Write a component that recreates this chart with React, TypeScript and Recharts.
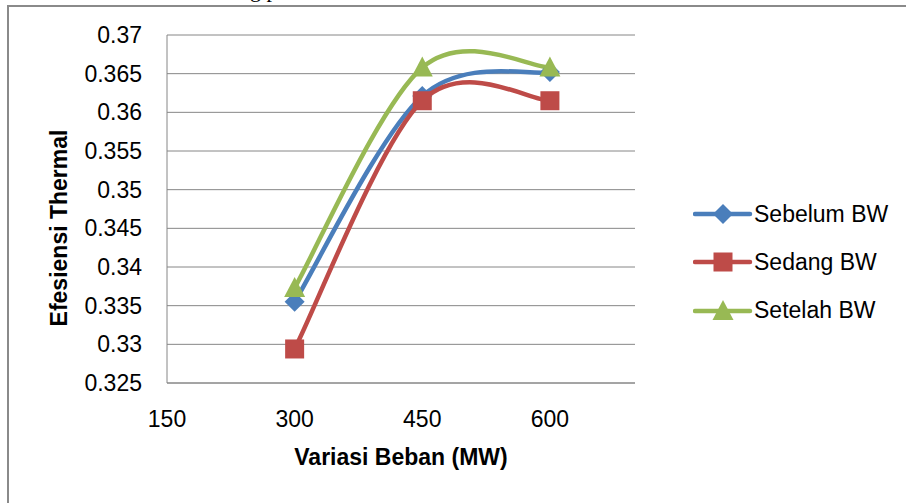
import React from "react";
import { LineChart, Line, XAxis, YAxis, CartesianGrid } from "recharts";

const loads = [300, 450, 600];
const sebelumBW = [0.3355, 0.3621, 0.3652];
const sedangBW = [0.3294, 0.3615, 0.3615];
const setelahBW = [0.3373, 0.3658, 0.3658];
const yTicks = [0.325, 0.33, 0.335, 0.34, 0.345, 0.35, 0.355, 0.36, 0.365, 0.37];
const xTicks = [150, 300, 450, 600];
const seriesNames = ["Sebelum BW", "Sedang BW", "Setelah BW"];

const BLUE = "#4A7EBB";
const RED = "#BE4B48";
const GREEN = "#98B954";
const FONT = "'Liberation Sans', Arial, sans-serif";

const data = loads.map((x, i) => ({
  x,
  sebelum: sebelumBW[i],
  sedang: sedangBW[i],
  setelah: setelahBW[i],
}));

// Excel-like smoothed line (Catmull-Rom to Bezier)
function excelCurve(context: any) {
  let pts: number[][] = [];
  return {
    areaStart() {},
    areaEnd() {},
    lineStart() {
      pts = [];
    },
    point(x: number, y: number) {
      pts.push([+x, +y]);
    },
    lineEnd() {
      const n = pts.length;
      if (!n) return;
      context.moveTo(pts[0][0], pts[0][1]);
      const t = 1 / 6;
      for (let i = 0; i < n - 1; i++) {
        const p0 = pts[Math.max(i - 1, 0)];
        const p1 = pts[i];
        const p2 = pts[i + 1];
        const p3 = pts[Math.min(i + 2, n - 1)];
        context.bezierCurveTo(
          p1[0] + (p2[0] - p0[0]) * t,
          p1[1] + (p2[1] - p0[1]) * t,
          p2[0] - (p3[0] - p1[0]) * t,
          p2[1] - (p3[1] - p1[1]) * t,
          p2[0],
          p2[1]
        );
      }
    },
  };
}

const diamond = (cx: number, cy: number, key?: any) => (
  <path key={key} d={`M${cx},${cy - 10}L${cx + 10},${cy}L${cx},${cy + 10}L${cx - 10},${cy}Z`} fill={BLUE} />
);
const square = (cx: number, cy: number, key?: any) => (
  <rect key={key} x={cx - 9.5} y={cy - 9.5} width={19} height={19} fill={RED} />
);
const triangle = (cx: number, cy: number, key?: any) => (
  <path key={key} d={`M${cx},${cy - 11}L${cx + 10.5},${cy + 9}L${cx - 10.5},${cy + 9}Z`} fill={GREEN} />
);

const markers = [diamond, square, triangle];
const colors = [BLUE, RED, GREEN];

const fmt = (v: number) => String(Number(v.toFixed(3)));

export default function App() {
  return (
    <div style={{ position: "absolute", left: 0, top: 0, width: 906, height: 503, background: "#fff", overflow: "hidden" }}>
      <div
        style={{
          position: "absolute",
          left: 250,
          top: -21,
          fontFamily: "'Liberation Serif', 'Times New Roman', serif",
          fontSize: 22,
          lineHeight: "22px",
          color: "#000",
        }}
      >
        g p
      </div>
      <div
        style={{
          position: "absolute",
          left: 7,
          top: 5,
          width: 910,
          height: 510,
          borderLeft: "2px solid #8a8a8a",
          borderTop: "2px solid #8a8a8a",
        }}
      />
      <div style={{ position: "absolute", left: 0, top: 0 }}>
        <LineChart width={906} height={503} data={data} margin={{ top: 35, right: 271, left: 0, bottom: 0 }}>
          <CartesianGrid vertical={false} stroke="#868686" strokeWidth={1} />
          <XAxis
            dataKey="x"
            type="number"
            domain={[150, 700]}
            ticks={xTicks}
            interval={0}
            height={120}
            axisLine={{ stroke: "#868686" }}
            tickLine={false}
            tickSize={6}
            tickMargin={22}
            tick={{ fill: "#000", fontSize: 23, fontFamily: FONT }}
            label={{
              value: "Variasi Beban (MW)",
              position: "insideTop",
              offset: 66,
              fill: "#000",
              fontSize: 23,
              fontWeight: "bold",
              fontFamily: FONT,
            }}
          />
          <YAxis
            type="number"
            domain={[0.325, 0.37]}
            ticks={yTicks}
            interval={0}
            width={167}
            axisLine={{ stroke: "#868686" }}
            tickLine={false}
            tickSize={6}
            tickMargin={19}
            tickFormatter={fmt}
            tick={{ fill: "#000", fontSize: 23, fontFamily: FONT }}
            label={{
              content: () => (
                <text
                  x={59}
                  y={228}
                  transform="rotate(-90 59 228)"
                  textAnchor="middle"
                  dominantBaseline="central"
                  fill="#000"
                  fontSize={23}
                  fontWeight="bold"
                  fontFamily={FONT}
                >
                  Efesiensi Thermal
                </text>
              ),
            }}
          />
          {["sebelum", "sedang", "setelah"].map((k, i) => (
            <Line
              key={k}
              dataKey={k}
              name={seriesNames[i]}
              type={excelCurve as any}
              stroke={colors[i]}
              strokeWidth={4.5}
              isAnimationActive={false}
              activeDot={false}
              dot={(p: any) => markers[i](p.cx, p.cy, `${k}-${p.index}`)}
            />
          ))}
        </LineChart>
      </div>
      <div style={{ position: "absolute", left: 693, top: 190 }}>
        {seriesNames.map((name, i) => (
          <div key={name} style={{ display: "flex", alignItems: "center", height: 48.3 }}>
            <svg width={60} height={26} style={{ display: "block" }}>
              <line x1={2} y1={13} x2={57} y2={13} stroke={colors[i]} strokeWidth={4.5} strokeLinecap="round" />
              {markers[i](30, 13)}
            </svg>
            <span style={{ fontFamily: FONT, fontSize: 23, color: "#000", marginLeft: 1, whiteSpace: "nowrap" }}>{name}</span>
          </div>
        ))}
      </div>
    </div>
  );
}
